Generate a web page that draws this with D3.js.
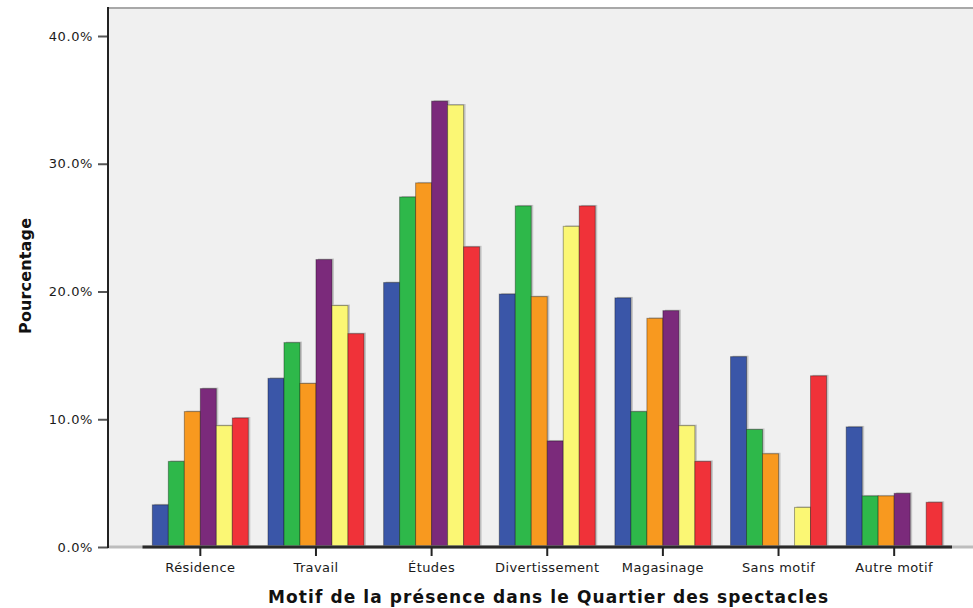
<!DOCTYPE html>
<html><head><meta charset="utf-8">
<script src="https://cdn.jsdelivr.net/npm/d3@7"></script>
<style>body{margin:0;background:#fff}svg{display:block}text{font-family:"DejaVu Sans",Arial,sans-serif}</style>
</head><body>
<svg id="c" width="973" height="608"></svg>
<script>
const categories = ["Résidence","Travail","Études","Divertissement","Magasinage","Sans motif","Autre motif"];
const seriesNames = ["Groupe 1","Groupe 2","Groupe 3","Groupe 4","Groupe 5","Groupe 6"];
const seriesColors = ["#3A56A8","#2EB84A","#F8991F","#7B2A7B","#FBF774","#F03239"];
const s1 = [3.3, 13.2, 20.7, 19.8, 19.5, 14.9, 9.4];
const s2 = [6.7, 16.0, 27.4, 26.7, 10.6, 9.2, 4.0];
const s3 = [10.6, 12.8, 28.5, 19.6, 17.9, 7.3, 4.0];
const s4 = [12.4, 22.5, 34.9, 8.3, 18.5, 0, 4.2];
const s5 = [9.5, 18.9, 34.6, 25.1, 9.5, 3.1, 0];
const s6 = [10.1, 16.7, 23.5, 26.7, 6.7, 13.4, 3.5];
const seriesValues = [s1,s2,s3,s4,s5,s6];
const yTicks = [0,10,20,30,40];

const svg = d3.select("#c");
const plotL = 108, plotR = 973, plotT = 8, plotB = 547;
const x0 = d3.scaleBand().domain(categories).range([142.5, 952]).paddingInner(0.17).paddingOuter(0.085);
const x1 = d3.scaleBand().domain(seriesNames).range([0, x0.bandwidth()]);
const y = d3.scaleLinear().domain([0,40]).range([plotB, 36]);

svg.append("rect").attr("x",plotL).attr("y",plotT).attr("width",plotR-plotL).attr("height",plotB-plotT).attr("fill","#F0F0F0");
svg.append("line").attr("x1",plotL).attr("x2",plotR).attr("y1",plotT).attr("y2",plotT).attr("stroke","#a8a8a8").attr("stroke-width",2);

const data = [];
categories.forEach((c,i)=>seriesNames.forEach((s,j)=>data.push({c,s,j,v:seriesValues[j][i]})));
const bars = data.filter(d=>d.v>0);
svg.append("g").selectAll("rect").data(bars).join("rect")
  .attr("x",d=>x0(d.c)+x1(d.s)+2).attr("y",d=>y(d.v)-1)
  .attr("width",x1.bandwidth()).attr("height",d=>plotB-y(d.v)+1)
  .attr("fill","#000").attr("opacity",0.18);
svg.append("g").selectAll("rect").data(bars).join("rect")
  .attr("x",d=>x0(d.c)+x1(d.s)).attr("y",d=>y(d.v))
  .attr("width",x1.bandwidth()).attr("height",d=>plotB-y(d.v))
  .attr("fill",d=>seriesColors[d.j]).attr("stroke","rgba(0,0,0,0.35)").attr("stroke-width",1);

svg.append("line").attr("x1",plotL).attr("x2",plotR).attr("y1",plotB).attr("y2",plotB).attr("stroke","#bdbdbd").attr("stroke-width",3);
svg.append("line").attr("x1",142.5).attr("x2",952).attr("y1",plotB).attr("y2",plotB).attr("stroke","#2a2a2a").attr("stroke-width",3);
const xa = svg.append("g").attr("transform",`translate(0,${plotB})`).call(d3.axisBottom(x0).tickSize(9).tickPadding(7));
xa.select(".domain").remove();
xa.selectAll(".tick line").attr("stroke","#222").attr("stroke-width",2);
xa.selectAll(".tick text").attr("font-size",13).attr("letter-spacing",0.4).attr("fill","#1a1a1a").attr("font-family","DejaVu Sans, Arial, sans-serif");

const ya = svg.append("g").attr("transform",`translate(${plotL},0)`).call(d3.axisLeft(y).tickValues(yTicks).tickFormat(d=>d3.format(".1f")(d)+"%").tickSize(10).tickPadding(5));
ya.select(".domain").remove();
ya.selectAll(".tick line").attr("stroke","#555").attr("stroke-width",2);
ya.selectAll(".tick text").attr("font-size",13).attr("letter-spacing",0.6).attr("fill","#1a1a1a").attr("font-family","DejaVu Sans, Arial, sans-serif");
svg.append("line").attr("x1",plotL).attr("x2",plotL).attr("y1",plotT-1).attr("y2",plotB+1).attr("stroke","#222").attr("stroke-width",2);

svg.append("text").attr("x",548).attr("y",603).attr("text-anchor","middle").attr("font-size",17).attr("font-weight","bold").attr("fill","#111")
  .attr("textLength",560).attr("lengthAdjust","spacing")
  .text("Motif de la présence dans le Quartier des spectacles");
svg.append("text").attr("transform","translate(31,276) rotate(-90)").attr("text-anchor","middle").attr("font-size",16).attr("font-weight","bold").attr("fill","#111")
  .attr("textLength",116).attr("lengthAdjust","spacing")
  .text("Pourcentage");
</script>
</body></html>
